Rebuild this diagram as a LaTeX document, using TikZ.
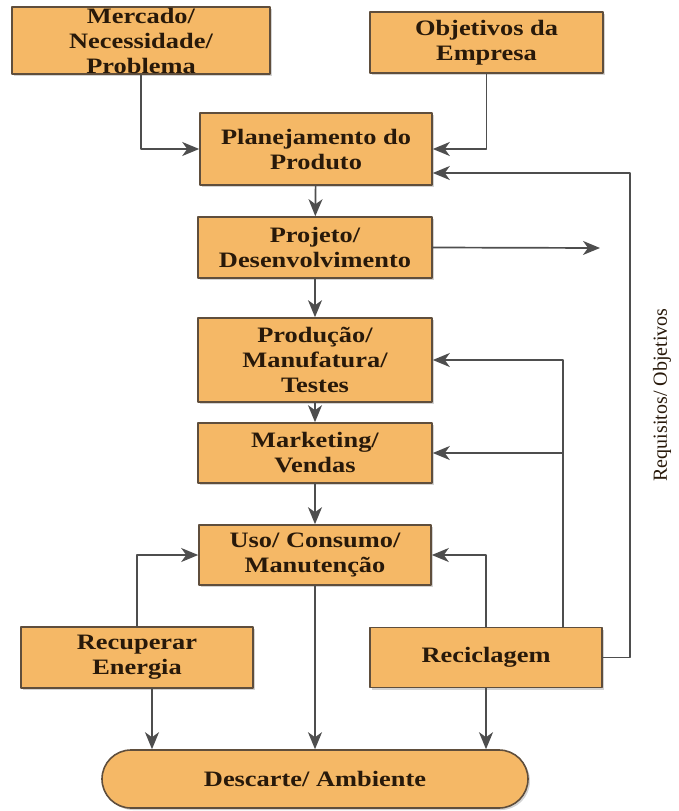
\documentclass[tikz,border=0pt]{standalone}
\usepackage{fontspec}
\setmainfont{Liberation Serif}
\newfontfamily\caixafont[FakeStretch=1.2]{Liberation Serif}
\usetikzlibrary{arrows.meta,shadows}
\definecolor{laranja}{RGB}{245,184,102}
\definecolor{borda}{RGB}{95,78,60}
\definecolor{cinza}{RGB}{78,78,78}
\definecolor{texto}{RGB}{40,25,10}

\begin{document}
\begin{tikzpicture}[x=1pt,y=-1pt,
  line cap=round,
  line join=round,
  caixa/.style={draw=borda,line width=1.6pt,fill=laranja,align=center,
    inner sep=1pt,text=texto,
    font=\caixafont\bfseries\fontsize{22}{25}\selectfont,
    drop shadow={opacity=0.35,shadow xshift=2pt,shadow yshift=-2pt}},
  seta/.style={draw=cinza,line width=1.7pt,
    -{Stealth[length=17pt,width=14pt,inset=5pt]}}]

  % área da figura
  \useasboundingbox (0,0) rectangle (679,811);

  % caixas
  \node[caixa,minimum width=258pt,minimum height=65pt] (merc) at (141,40.5)
    {Mercado/\\Necessidade/\\Problema};
  \node[caixa,minimum width=233pt,minimum height=61pt] (obj) at (486.5,42.5)
    {Objetivos da\\Empresa};
  \node[caixa,minimum width=232pt,minimum height=72pt] (plan) at (316,149)
    {Planejamento do\\Produto};
  \node[caixa,minimum width=234pt,minimum height=61pt] (proj) at (315,247.5)
    {Projeto/\\Desenvolvimento};
  \node[caixa,minimum width=234pt,minimum height=84pt] (prod) at (315,360)
    {Produção/\\Manufatura/\\Testes};
  \node[caixa,minimum width=234pt,minimum height=60pt] (mkt) at (315,453)
    {Marketing/\\Vendas};
  \node[caixa,minimum width=232pt,minimum height=60pt] (uso) at (315,555)
    {Uso/ Consumo/\\Manutenção};
  \node[caixa,minimum width=232pt,minimum height=61pt] (recup) at (137,657.5)
    {Recuperar\\Energia};
  \node[caixa,minimum width=232pt,minimum height=60pt] (recic) at (486,657.5)
    {Reciclagem};
  \node[caixa,minimum width=426pt,minimum height=58pt,rounded corners=29pt]
    (desc) at (315,779) {Descarte/ Ambiente};

  % pontos auxiliares
  \coordinate (saida) at (600,248);
  \coordinate (ret)   at (563,453);
  \coordinate (req)   at (630,173);

  % setas de entrada
  \draw[seta] (merc.south) |- (plan.west);
  \draw[seta] (obj.south) |- (plan.east);

  % fluxo principal
  \draw[seta] (plan) -- (proj);
  \draw[seta] (proj) -- (prod);
  \draw[seta] (prod) -- (mkt);
  \draw[seta] (mkt) -- (uso);
  \draw[seta] (uso) -- (desc);
  \draw[seta] (proj.east) -- (saida);

  % retornos
  \draw[seta] (recup.north) |- (uso.west);
  \draw[seta] (recic.north) |- (uso.east);
  \draw[seta] (recic.north -| ret) |- (prod.east);
  \draw[seta] (ret) -- (mkt.east);
  \draw[seta] (recic.east) -| (req) -- (req -| plan.east);

  % para o descarte
  \draw[seta] ([xshift=15pt]recup.south) -- ([xshift=15pt]recup.south |- desc.north);
  \draw[seta] (recic.south) -- (recic.south |- desc.north);

  % rótulo vertical
  \node[rotate=90,text=texto,font=\fontsize{20}{22}\selectfont] (rotulo)
    at (662,395) {Requisitos/ Objetivos};

\end{tikzpicture}
\end{document}
